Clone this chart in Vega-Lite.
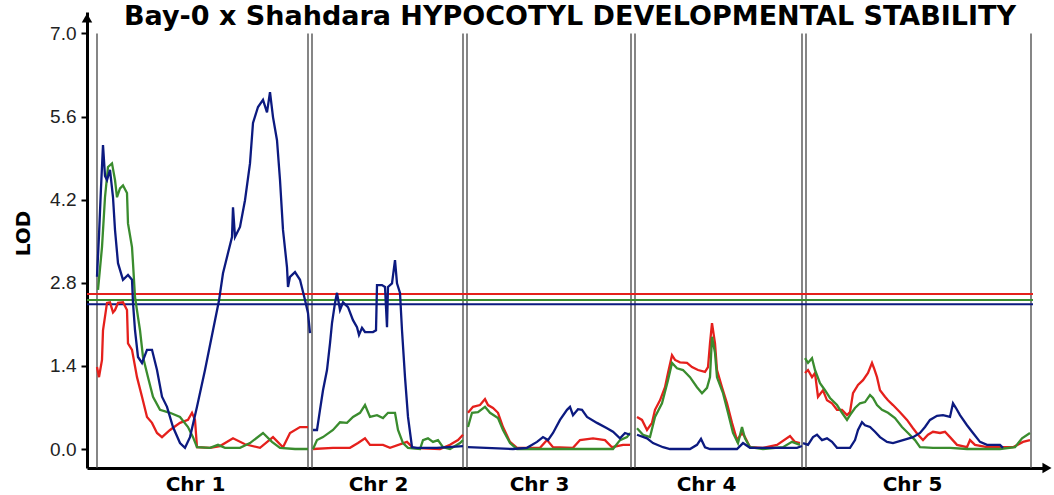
{
  "$schema": "https://vega.github.io/schema/vega-lite/v6.json",
  "width": 958,
  "height": 456,
  "autosize": "none",
  "padding": {"left": 87, "top": 12, "right": 9, "bottom": 27},
  "background": "white",
  "title": {
    "text": "Bay-0 x Shahdara HYPOCOTYL DEVELOPMENTAL STABILITY",
    "font": "DejaVu Sans",
    "fontWeight": "bold",
    "fontSize": 27,
    "color": "black",
    "anchor": "middle",
    "baseline": "alphabetic",
    "offset": 0,
    "dy": 40,
    "dx": 4
  },
  "datasets": {
    "bounds": [{"pos": 0}, {"pos": 211}, {"pos": 215}, {"pos": 366}, {"pos": 370}, {"pos": 534}, {"pos": 538}, {"pos": 705}, {"pos": 709}, {"pos": 934}],
    "thr": [{"series": "red", "lod": 2.61}, {"series": "green", "lod": 2.51}, {"series": "blue", "lod": 2.44}],
    "lod": [
      {"chr": 1, "series": "red", "pos": 0, "lod": 1.38}, {"chr": 1, "series": "red", "pos": 2, "lod": 1.21}, {"chr": 1, "series": "red", "pos": 5, "lod": 1.5}, {"chr": 1, "series": "red", "pos": 6, "lod": 2.0}, {"chr": 1, "series": "red", "pos": 10, "lod": 2.46}, {"chr": 1, "series": "red", "pos": 13, "lod": 2.47}, {"chr": 1, "series": "red", "pos": 16, "lod": 2.3}, {"chr": 1, "series": "red", "pos": 18, "lod": 2.34}, {"chr": 1, "series": "red", "pos": 21, "lod": 2.46}, {"chr": 1, "series": "red", "pos": 26, "lod": 2.47}, {"chr": 1, "series": "red", "pos": 30, "lod": 2.34}, {"chr": 1, "series": "red", "pos": 31, "lod": 1.78}, {"chr": 1, "series": "red", "pos": 35, "lod": 1.67}, {"chr": 1, "series": "red", "pos": 40, "lod": 1.21}, {"chr": 1, "series": "red", "pos": 45, "lod": 0.88}, {"chr": 1, "series": "red", "pos": 50, "lod": 0.54}, {"chr": 1, "series": "red", "pos": 55, "lod": 0.44}, {"chr": 1, "series": "red", "pos": 60, "lod": 0.27}, {"chr": 1, "series": "red", "pos": 65, "lod": 0.2}, {"chr": 1, "series": "red", "pos": 73, "lod": 0.32}, {"chr": 1, "series": "red", "pos": 83, "lod": 0.44}, {"chr": 1, "series": "red", "pos": 91, "lod": 0.49}, {"chr": 1, "series": "red", "pos": 95, "lod": 0.61}, {"chr": 1, "series": "red", "pos": 98, "lod": 0.49}, {"chr": 1, "series": "red", "pos": 100, "lod": 0.03}, {"chr": 1, "series": "red", "pos": 113, "lod": 0.02}, {"chr": 1, "series": "red", "pos": 123, "lod": 0.05}, {"chr": 1, "series": "red", "pos": 136, "lod": 0.18}, {"chr": 1, "series": "red", "pos": 148, "lod": 0.08}, {"chr": 1, "series": "red", "pos": 163, "lod": 0.02}, {"chr": 1, "series": "red", "pos": 176, "lod": 0.2}, {"chr": 1, "series": "red", "pos": 186, "lod": 0.03}, {"chr": 1, "series": "red", "pos": 193, "lod": 0.27}, {"chr": 1, "series": "red", "pos": 203, "lod": 0.37}, {"chr": 1, "series": "red", "pos": 211, "lod": 0.37},

      {"chr": 1, "series": "green", "pos": 1, "lod": 2.68}, {"chr": 1, "series": "green", "pos": 5, "lod": 3.4}, {"chr": 1, "series": "green", "pos": 8, "lod": 4.24}, {"chr": 1, "series": "green", "pos": 11, "lod": 4.75}, {"chr": 1, "series": "green", "pos": 15, "lod": 4.81}, {"chr": 1, "series": "green", "pos": 18, "lod": 4.53}, {"chr": 1, "series": "green", "pos": 20, "lod": 4.24}, {"chr": 1, "series": "green", "pos": 23, "lod": 4.39}, {"chr": 1, "series": "green", "pos": 26, "lod": 4.44}, {"chr": 1, "series": "green", "pos": 30, "lod": 4.31}, {"chr": 1, "series": "green", "pos": 31, "lod": 3.8}, {"chr": 1, "series": "green", "pos": 35, "lod": 3.4}, {"chr": 1, "series": "green", "pos": 36, "lod": 3.13}, {"chr": 1, "series": "green", "pos": 38, "lod": 2.56}, {"chr": 1, "series": "green", "pos": 41, "lod": 2.22}, {"chr": 1, "series": "green", "pos": 43, "lod": 2.0}, {"chr": 1, "series": "green", "pos": 46, "lod": 1.55}, {"chr": 1, "series": "green", "pos": 51, "lod": 1.21}, {"chr": 1, "series": "green", "pos": 56, "lod": 0.88}, {"chr": 1, "series": "green", "pos": 63, "lod": 0.66}, {"chr": 1, "series": "green", "pos": 73, "lod": 0.61}, {"chr": 1, "series": "green", "pos": 83, "lod": 0.54}, {"chr": 1, "series": "green", "pos": 91, "lod": 0.37}, {"chr": 1, "series": "green", "pos": 96, "lod": 0.2}, {"chr": 1, "series": "green", "pos": 100, "lod": 0.03}, {"chr": 1, "series": "green", "pos": 113, "lod": 0.02}, {"chr": 1, "series": "green", "pos": 121, "lod": 0.07}, {"chr": 1, "series": "green", "pos": 128, "lod": 0.02}, {"chr": 1, "series": "green", "pos": 143, "lod": 0.02}, {"chr": 1, "series": "green", "pos": 153, "lod": 0.1}, {"chr": 1, "series": "green", "pos": 166, "lod": 0.27}, {"chr": 1, "series": "green", "pos": 175, "lod": 0.12}, {"chr": 1, "series": "green", "pos": 183, "lod": 0.02}, {"chr": 1, "series": "green", "pos": 198, "lod": 0.0}, {"chr": 1, "series": "green", "pos": 211, "lod": 0.0},

      {"chr": 1, "series": "blue", "pos": 0, "lod": 2.9}, {"chr": 1, "series": "blue", "pos": 2, "lod": 3.6}, {"chr": 1, "series": "blue", "pos": 4, "lod": 4.4}, {"chr": 1, "series": "blue", "pos": 6, "lod": 5.12}, {"chr": 1, "series": "blue", "pos": 8, "lod": 4.6}, {"chr": 1, "series": "blue", "pos": 10, "lod": 4.53}, {"chr": 1, "series": "blue", "pos": 13, "lod": 4.7}, {"chr": 1, "series": "blue", "pos": 16, "lod": 4.24}, {"chr": 1, "series": "blue", "pos": 18, "lod": 3.69}, {"chr": 1, "series": "blue", "pos": 21, "lod": 3.13}, {"chr": 1, "series": "blue", "pos": 26, "lod": 2.85}, {"chr": 1, "series": "blue", "pos": 31, "lod": 2.93}, {"chr": 1, "series": "blue", "pos": 35, "lod": 2.85}, {"chr": 1, "series": "blue", "pos": 36, "lod": 2.46}, {"chr": 1, "series": "blue", "pos": 38, "lod": 2.0}, {"chr": 1, "series": "blue", "pos": 41, "lod": 1.55}, {"chr": 1, "series": "blue", "pos": 45, "lod": 1.45}, {"chr": 1, "series": "blue", "pos": 50, "lod": 1.67}, {"chr": 1, "series": "blue", "pos": 55, "lod": 1.67}, {"chr": 1, "series": "blue", "pos": 60, "lod": 1.33}, {"chr": 1, "series": "blue", "pos": 65, "lod": 0.88}, {"chr": 1, "series": "blue", "pos": 70, "lod": 0.71}, {"chr": 1, "series": "blue", "pos": 76, "lod": 0.37}, {"chr": 1, "series": "blue", "pos": 83, "lod": 0.1}, {"chr": 1, "series": "blue", "pos": 88, "lod": 0.02}, {"chr": 1, "series": "blue", "pos": 93, "lod": 0.2}, {"chr": 1, "series": "blue", "pos": 100, "lod": 0.71}, {"chr": 1, "series": "blue", "pos": 108, "lod": 1.33}, {"chr": 1, "series": "blue", "pos": 116, "lod": 2.0}, {"chr": 1, "series": "blue", "pos": 122, "lod": 2.5}, {"chr": 1, "series": "blue", "pos": 126, "lod": 2.96}, {"chr": 1, "series": "blue", "pos": 131, "lod": 3.3}, {"chr": 1, "series": "blue", "pos": 135, "lod": 3.57}, {"chr": 1, "series": "blue", "pos": 136, "lod": 4.07}, {"chr": 1, "series": "blue", "pos": 138, "lod": 3.57}, {"chr": 1, "series": "blue", "pos": 143, "lod": 3.74}, {"chr": 1, "series": "blue", "pos": 148, "lod": 4.19}, {"chr": 1, "series": "blue", "pos": 153, "lod": 4.81}, {"chr": 1, "series": "blue", "pos": 156, "lod": 5.49}, {"chr": 1, "series": "blue", "pos": 161, "lod": 5.76}, {"chr": 1, "series": "blue", "pos": 166, "lod": 5.88}, {"chr": 1, "series": "blue", "pos": 170, "lod": 5.67}, {"chr": 1, "series": "blue", "pos": 173, "lod": 6.01}, {"chr": 1, "series": "blue", "pos": 176, "lod": 5.59}, {"chr": 1, "series": "blue", "pos": 180, "lod": 5.2}, {"chr": 1, "series": "blue", "pos": 183, "lod": 4.53}, {"chr": 1, "series": "blue", "pos": 186, "lod": 3.69}, {"chr": 1, "series": "blue", "pos": 190, "lod": 3.06}, {"chr": 1, "series": "blue", "pos": 191, "lod": 2.73}, {"chr": 1, "series": "blue", "pos": 193, "lod": 2.9}, {"chr": 1, "series": "blue", "pos": 198, "lod": 2.98}, {"chr": 1, "series": "blue", "pos": 203, "lod": 2.85}, {"chr": 1, "series": "blue", "pos": 208, "lod": 2.51}, {"chr": 1, "series": "blue", "pos": 211, "lod": 2.29}, {"chr": 1, "series": "blue", "pos": 213, "lod": 1.95},

      {"chr": 2, "series": "red", "pos": 216, "lod": 0.0}, {"chr": 2, "series": "red", "pos": 236, "lod": 0.02}, {"chr": 2, "series": "red", "pos": 253, "lod": 0.02}, {"chr": 2, "series": "red", "pos": 261, "lod": 0.1}, {"chr": 2, "series": "red", "pos": 268, "lod": 0.18}, {"chr": 2, "series": "red", "pos": 273, "lod": 0.07}, {"chr": 2, "series": "red", "pos": 286, "lod": 0.07}, {"chr": 2, "series": "red", "pos": 293, "lod": 0.02}, {"chr": 2, "series": "red", "pos": 310, "lod": 0.12}, {"chr": 2, "series": "red", "pos": 316, "lod": 0.02}, {"chr": 2, "series": "red", "pos": 343, "lod": 0.0}, {"chr": 2, "series": "red", "pos": 353, "lod": 0.07}, {"chr": 2, "series": "red", "pos": 361, "lod": 0.15}, {"chr": 2, "series": "red", "pos": 366, "lod": 0.24},

      {"chr": 2, "series": "green", "pos": 216, "lod": 0.0}, {"chr": 2, "series": "green", "pos": 220, "lod": 0.15}, {"chr": 2, "series": "green", "pos": 226, "lod": 0.2}, {"chr": 2, "series": "green", "pos": 236, "lod": 0.32}, {"chr": 2, "series": "green", "pos": 243, "lod": 0.45}, {"chr": 2, "series": "green", "pos": 250, "lod": 0.44}, {"chr": 2, "series": "green", "pos": 256, "lod": 0.54}, {"chr": 2, "series": "green", "pos": 263, "lod": 0.61}, {"chr": 2, "series": "green", "pos": 268, "lod": 0.74}, {"chr": 2, "series": "green", "pos": 273, "lod": 0.54}, {"chr": 2, "series": "green", "pos": 280, "lod": 0.57}, {"chr": 2, "series": "green", "pos": 286, "lod": 0.52}, {"chr": 2, "series": "green", "pos": 291, "lod": 0.61}, {"chr": 2, "series": "green", "pos": 298, "lod": 0.61}, {"chr": 2, "series": "green", "pos": 301, "lod": 0.32}, {"chr": 2, "series": "green", "pos": 306, "lod": 0.1}, {"chr": 2, "series": "green", "pos": 311, "lod": 0.02}, {"chr": 2, "series": "green", "pos": 323, "lod": 0.0}, {"chr": 2, "series": "green", "pos": 326, "lod": 0.15}, {"chr": 2, "series": "green", "pos": 331, "lod": 0.18}, {"chr": 2, "series": "green", "pos": 336, "lod": 0.12}, {"chr": 2, "series": "green", "pos": 341, "lod": 0.15}, {"chr": 2, "series": "green", "pos": 346, "lod": 0.03}, {"chr": 2, "series": "green", "pos": 353, "lod": 0.0}, {"chr": 2, "series": "green", "pos": 363, "lod": 0.1}, {"chr": 2, "series": "green", "pos": 366, "lod": 0.15},

      {"chr": 2, "series": "blue", "pos": 216, "lod": 0.32}, {"chr": 2, "series": "blue", "pos": 220, "lod": 0.32}, {"chr": 2, "series": "blue", "pos": 223, "lod": 0.66}, {"chr": 2, "series": "blue", "pos": 226, "lod": 0.99}, {"chr": 2, "series": "blue", "pos": 230, "lod": 1.33}, {"chr": 2, "series": "blue", "pos": 233, "lod": 1.78}, {"chr": 2, "series": "blue", "pos": 235, "lod": 2.12}, {"chr": 2, "series": "blue", "pos": 238, "lod": 2.46}, {"chr": 2, "series": "blue", "pos": 240, "lod": 2.63}, {"chr": 2, "series": "blue", "pos": 243, "lod": 2.34}, {"chr": 2, "series": "blue", "pos": 246, "lod": 2.47}, {"chr": 2, "series": "blue", "pos": 251, "lod": 2.39}, {"chr": 2, "series": "blue", "pos": 256, "lod": 2.17}, {"chr": 2, "series": "blue", "pos": 260, "lod": 2.05}, {"chr": 2, "series": "blue", "pos": 262, "lod": 1.92}, {"chr": 2, "series": "blue", "pos": 265, "lod": 2.04}, {"chr": 2, "series": "blue", "pos": 268, "lod": 1.97}, {"chr": 2, "series": "blue", "pos": 276, "lod": 1.97}, {"chr": 2, "series": "blue", "pos": 279, "lod": 2.0}, {"chr": 2, "series": "blue", "pos": 280, "lod": 2.76}, {"chr": 2, "series": "blue", "pos": 285, "lod": 2.76}, {"chr": 2, "series": "blue", "pos": 288, "lod": 2.73}, {"chr": 2, "series": "blue", "pos": 290, "lod": 2.05}, {"chr": 2, "series": "blue", "pos": 291, "lod": 2.73}, {"chr": 2, "series": "blue", "pos": 295, "lod": 2.79}, {"chr": 2, "series": "blue", "pos": 298, "lod": 3.18}, {"chr": 2, "series": "blue", "pos": 300, "lod": 2.79}, {"chr": 2, "series": "blue", "pos": 303, "lod": 2.63}, {"chr": 2, "series": "blue", "pos": 305, "lod": 2.0}, {"chr": 2, "series": "blue", "pos": 308, "lod": 1.21}, {"chr": 2, "series": "blue", "pos": 311, "lod": 0.54}, {"chr": 2, "series": "blue", "pos": 315, "lod": 0.03}, {"chr": 2, "series": "blue", "pos": 320, "lod": 0.02}, {"chr": 2, "series": "blue", "pos": 340, "lod": 0.02}, {"chr": 2, "series": "blue", "pos": 366, "lod": 0.05},

      {"chr": 3, "series": "red", "pos": 371, "lod": 0.61}, {"chr": 3, "series": "red", "pos": 376, "lod": 0.71}, {"chr": 3, "series": "red", "pos": 383, "lod": 0.74}, {"chr": 3, "series": "red", "pos": 388, "lod": 0.84}, {"chr": 3, "series": "red", "pos": 391, "lod": 0.74}, {"chr": 3, "series": "red", "pos": 396, "lod": 0.69}, {"chr": 3, "series": "red", "pos": 401, "lod": 0.61}, {"chr": 3, "series": "red", "pos": 406, "lod": 0.37}, {"chr": 3, "series": "red", "pos": 413, "lod": 0.12}, {"chr": 3, "series": "red", "pos": 420, "lod": 0.02}, {"chr": 3, "series": "red", "pos": 443, "lod": 0.02}, {"chr": 3, "series": "red", "pos": 450, "lod": 0.15}, {"chr": 3, "series": "red", "pos": 456, "lod": 0.03}, {"chr": 3, "series": "red", "pos": 476, "lod": 0.02}, {"chr": 3, "series": "red", "pos": 483, "lod": 0.15}, {"chr": 3, "series": "red", "pos": 496, "lod": 0.18}, {"chr": 3, "series": "red", "pos": 508, "lod": 0.15}, {"chr": 3, "series": "red", "pos": 515, "lod": 0.03}, {"chr": 3, "series": "red", "pos": 526, "lod": 0.07}, {"chr": 3, "series": "red", "pos": 533, "lod": 0.07},

      {"chr": 3, "series": "green", "pos": 371, "lod": 0.37}, {"chr": 3, "series": "green", "pos": 375, "lod": 0.61}, {"chr": 3, "series": "green", "pos": 381, "lod": 0.62}, {"chr": 3, "series": "green", "pos": 388, "lod": 0.71}, {"chr": 3, "series": "green", "pos": 393, "lod": 0.61}, {"chr": 3, "series": "green", "pos": 401, "lod": 0.52}, {"chr": 3, "series": "green", "pos": 406, "lod": 0.32}, {"chr": 3, "series": "green", "pos": 413, "lod": 0.1}, {"chr": 3, "series": "green", "pos": 420, "lod": 0.0}, {"chr": 3, "series": "green", "pos": 516, "lod": 0.0}, {"chr": 3, "series": "green", "pos": 523, "lod": 0.15}, {"chr": 3, "series": "green", "pos": 530, "lod": 0.2}, {"chr": 3, "series": "green", "pos": 533, "lod": 0.27},

      {"chr": 3, "series": "blue", "pos": 371, "lod": 0.03}, {"chr": 3, "series": "blue", "pos": 416, "lod": 0.0}, {"chr": 3, "series": "blue", "pos": 430, "lod": 0.02}, {"chr": 3, "series": "blue", "pos": 440, "lod": 0.12}, {"chr": 3, "series": "blue", "pos": 446, "lod": 0.2}, {"chr": 3, "series": "blue", "pos": 451, "lod": 0.15}, {"chr": 3, "series": "blue", "pos": 456, "lod": 0.27}, {"chr": 3, "series": "blue", "pos": 463, "lod": 0.49}, {"chr": 3, "series": "blue", "pos": 470, "lod": 0.66}, {"chr": 3, "series": "blue", "pos": 473, "lod": 0.71}, {"chr": 3, "series": "blue", "pos": 476, "lod": 0.57}, {"chr": 3, "series": "blue", "pos": 481, "lod": 0.67}, {"chr": 3, "series": "blue", "pos": 485, "lod": 0.66}, {"chr": 3, "series": "blue", "pos": 490, "lod": 0.54}, {"chr": 3, "series": "blue", "pos": 500, "lod": 0.44}, {"chr": 3, "series": "blue", "pos": 510, "lod": 0.35}, {"chr": 3, "series": "blue", "pos": 516, "lod": 0.29}, {"chr": 3, "series": "blue", "pos": 523, "lod": 0.18}, {"chr": 3, "series": "blue", "pos": 528, "lod": 0.27}, {"chr": 3, "series": "blue", "pos": 533, "lod": 0.24},

      {"chr": 4, "series": "red", "pos": 540, "lod": 0.54}, {"chr": 4, "series": "red", "pos": 545, "lod": 0.49}, {"chr": 4, "series": "red", "pos": 550, "lod": 0.32}, {"chr": 4, "series": "red", "pos": 555, "lod": 0.44}, {"chr": 4, "series": "red", "pos": 558, "lod": 0.66}, {"chr": 4, "series": "red", "pos": 563, "lod": 0.82}, {"chr": 4, "series": "red", "pos": 568, "lod": 1.04}, {"chr": 4, "series": "red", "pos": 571, "lod": 1.28}, {"chr": 4, "series": "red", "pos": 575, "lod": 1.58}, {"chr": 4, "series": "red", "pos": 578, "lod": 1.5}, {"chr": 4, "series": "red", "pos": 583, "lod": 1.46}, {"chr": 4, "series": "red", "pos": 590, "lod": 1.45}, {"chr": 4, "series": "red", "pos": 595, "lod": 1.38}, {"chr": 4, "series": "red", "pos": 601, "lod": 1.33}, {"chr": 4, "series": "red", "pos": 608, "lod": 1.3}, {"chr": 4, "series": "red", "pos": 611, "lod": 1.38}, {"chr": 4, "series": "red", "pos": 613, "lod": 1.78}, {"chr": 4, "series": "red", "pos": 615, "lod": 2.12}, {"chr": 4, "series": "red", "pos": 618, "lod": 1.78}, {"chr": 4, "series": "red", "pos": 620, "lod": 1.33}, {"chr": 4, "series": "red", "pos": 625, "lod": 1.04}, {"chr": 4, "series": "red", "pos": 630, "lod": 0.77}, {"chr": 4, "series": "red", "pos": 635, "lod": 0.44}, {"chr": 4, "series": "red", "pos": 640, "lod": 0.15}, {"chr": 4, "series": "red", "pos": 645, "lod": 0.27}, {"chr": 4, "series": "red", "pos": 648, "lod": 0.2}, {"chr": 4, "series": "red", "pos": 653, "lod": 0.03}, {"chr": 4, "series": "red", "pos": 666, "lod": 0.02}, {"chr": 4, "series": "red", "pos": 680, "lod": 0.07}, {"chr": 4, "series": "red", "pos": 693, "lod": 0.22}, {"chr": 4, "series": "red", "pos": 698, "lod": 0.12}, {"chr": 4, "series": "red", "pos": 703, "lod": 0.1},

      {"chr": 4, "series": "green", "pos": 540, "lod": 0.35}, {"chr": 4, "series": "green", "pos": 546, "lod": 0.24}, {"chr": 4, "series": "green", "pos": 553, "lod": 0.2}, {"chr": 4, "series": "green", "pos": 558, "lod": 0.54}, {"chr": 4, "series": "green", "pos": 565, "lod": 0.77}, {"chr": 4, "series": "green", "pos": 571, "lod": 1.16}, {"chr": 4, "series": "green", "pos": 575, "lod": 1.45}, {"chr": 4, "series": "green", "pos": 580, "lod": 1.36}, {"chr": 4, "series": "green", "pos": 586, "lod": 1.33}, {"chr": 4, "series": "green", "pos": 593, "lod": 1.21}, {"chr": 4, "series": "green", "pos": 600, "lod": 1.04}, {"chr": 4, "series": "green", "pos": 605, "lod": 0.94}, {"chr": 4, "series": "green", "pos": 610, "lod": 1.03}, {"chr": 4, "series": "green", "pos": 613, "lod": 1.21}, {"chr": 4, "series": "green", "pos": 615, "lod": 1.89}, {"chr": 4, "series": "green", "pos": 618, "lod": 1.62}, {"chr": 4, "series": "green", "pos": 620, "lod": 1.21}, {"chr": 4, "series": "green", "pos": 626, "lod": 0.94}, {"chr": 4, "series": "green", "pos": 631, "lod": 0.61}, {"chr": 4, "series": "green", "pos": 636, "lod": 0.27}, {"chr": 4, "series": "green", "pos": 641, "lod": 0.1}, {"chr": 4, "series": "green", "pos": 645, "lod": 0.37}, {"chr": 4, "series": "green", "pos": 648, "lod": 0.18}, {"chr": 4, "series": "green", "pos": 653, "lod": 0.03}, {"chr": 4, "series": "green", "pos": 666, "lod": 0.0}, {"chr": 4, "series": "green", "pos": 686, "lod": 0.03}, {"chr": 4, "series": "green", "pos": 695, "lod": 0.12}, {"chr": 4, "series": "green", "pos": 703, "lod": 0.07},

      {"chr": 4, "series": "blue", "pos": 540, "lod": 0.24}, {"chr": 4, "series": "blue", "pos": 550, "lod": 0.18}, {"chr": 4, "series": "blue", "pos": 556, "lod": 0.1}, {"chr": 4, "series": "blue", "pos": 566, "lod": 0.03}, {"chr": 4, "series": "blue", "pos": 573, "lod": 0.0}, {"chr": 4, "series": "blue", "pos": 593, "lod": 0.0}, {"chr": 4, "series": "blue", "pos": 600, "lod": 0.07}, {"chr": 4, "series": "blue", "pos": 604, "lod": 0.17}, {"chr": 4, "series": "blue", "pos": 608, "lod": 0.03}, {"chr": 4, "series": "blue", "pos": 613, "lod": 0.0}, {"chr": 4, "series": "blue", "pos": 640, "lod": 0.0}, {"chr": 4, "series": "blue", "pos": 646, "lod": 0.1}, {"chr": 4, "series": "blue", "pos": 653, "lod": 0.02}, {"chr": 4, "series": "blue", "pos": 700, "lod": 0.02}, {"chr": 4, "series": "blue", "pos": 705, "lod": 0.05},

      {"chr": 5, "series": "red", "pos": 708, "lod": 1.28}, {"chr": 5, "series": "red", "pos": 711, "lod": 1.33}, {"chr": 5, "series": "red", "pos": 715, "lod": 1.21}, {"chr": 5, "series": "red", "pos": 718, "lod": 1.28}, {"chr": 5, "series": "red", "pos": 721, "lod": 0.88}, {"chr": 5, "series": "red", "pos": 726, "lod": 0.99}, {"chr": 5, "series": "red", "pos": 730, "lod": 0.82}, {"chr": 5, "series": "red", "pos": 735, "lod": 0.77}, {"chr": 5, "series": "red", "pos": 740, "lod": 0.66}, {"chr": 5, "series": "red", "pos": 745, "lod": 0.66}, {"chr": 5, "series": "red", "pos": 750, "lod": 0.57}, {"chr": 5, "series": "red", "pos": 753, "lod": 0.62}, {"chr": 5, "series": "red", "pos": 756, "lod": 0.94}, {"chr": 5, "series": "red", "pos": 761, "lod": 1.08}, {"chr": 5, "series": "red", "pos": 766, "lod": 1.16}, {"chr": 5, "series": "red", "pos": 771, "lod": 1.28}, {"chr": 5, "series": "red", "pos": 775, "lod": 1.45}, {"chr": 5, "series": "red", "pos": 777, "lod": 1.36}, {"chr": 5, "series": "red", "pos": 780, "lod": 1.21}, {"chr": 5, "series": "red", "pos": 783, "lod": 0.99}, {"chr": 5, "series": "red", "pos": 788, "lod": 0.88}, {"chr": 5, "series": "red", "pos": 791, "lod": 0.82}, {"chr": 5, "series": "red", "pos": 796, "lod": 0.74}, {"chr": 5, "series": "red", "pos": 803, "lod": 0.62}, {"chr": 5, "series": "red", "pos": 810, "lod": 0.49}, {"chr": 5, "series": "red", "pos": 816, "lod": 0.35}, {"chr": 5, "series": "red", "pos": 821, "lod": 0.24}, {"chr": 5, "series": "red", "pos": 826, "lod": 0.15}, {"chr": 5, "series": "red", "pos": 831, "lod": 0.24}, {"chr": 5, "series": "red", "pos": 836, "lod": 0.29}, {"chr": 5, "series": "red", "pos": 843, "lod": 0.27}, {"chr": 5, "series": "red", "pos": 848, "lod": 0.29}, {"chr": 5, "series": "red", "pos": 853, "lod": 0.2}, {"chr": 5, "series": "red", "pos": 860, "lod": 0.07}, {"chr": 5, "series": "red", "pos": 870, "lod": 0.03}, {"chr": 5, "series": "red", "pos": 873, "lod": 0.15}, {"chr": 5, "series": "red", "pos": 878, "lod": 0.07}, {"chr": 5, "series": "red", "pos": 890, "lod": 0.03}, {"chr": 5, "series": "red", "pos": 916, "lod": 0.03}, {"chr": 5, "series": "red", "pos": 926, "lod": 0.12}, {"chr": 5, "series": "red", "pos": 933, "lod": 0.15},

      {"chr": 5, "series": "green", "pos": 708, "lod": 1.53}, {"chr": 5, "series": "green", "pos": 711, "lod": 1.45}, {"chr": 5, "series": "green", "pos": 715, "lod": 1.53}, {"chr": 5, "series": "green", "pos": 718, "lod": 1.33}, {"chr": 5, "series": "green", "pos": 723, "lod": 1.11}, {"chr": 5, "series": "green", "pos": 728, "lod": 0.99}, {"chr": 5, "series": "green", "pos": 733, "lod": 0.86}, {"chr": 5, "series": "green", "pos": 740, "lod": 0.74}, {"chr": 5, "series": "green", "pos": 745, "lod": 0.61}, {"chr": 5, "series": "green", "pos": 750, "lod": 0.49}, {"chr": 5, "series": "green", "pos": 753, "lod": 0.57}, {"chr": 5, "series": "green", "pos": 758, "lod": 0.69}, {"chr": 5, "series": "green", "pos": 763, "lod": 0.77}, {"chr": 5, "series": "green", "pos": 768, "lod": 0.79}, {"chr": 5, "series": "green", "pos": 773, "lod": 0.91}, {"chr": 5, "series": "green", "pos": 776, "lod": 0.86}, {"chr": 5, "series": "green", "pos": 780, "lod": 0.74}, {"chr": 5, "series": "green", "pos": 785, "lod": 0.66}, {"chr": 5, "series": "green", "pos": 791, "lod": 0.61}, {"chr": 5, "series": "green", "pos": 798, "lod": 0.52}, {"chr": 5, "series": "green", "pos": 805, "lod": 0.37}, {"chr": 5, "series": "green", "pos": 811, "lod": 0.27}, {"chr": 5, "series": "green", "pos": 818, "lod": 0.15}, {"chr": 5, "series": "green", "pos": 823, "lod": 0.03}, {"chr": 5, "series": "green", "pos": 836, "lod": 0.02}, {"chr": 5, "series": "green", "pos": 853, "lod": 0.02}, {"chr": 5, "series": "green", "pos": 870, "lod": 0.0}, {"chr": 5, "series": "green", "pos": 903, "lod": 0.0}, {"chr": 5, "series": "green", "pos": 918, "lod": 0.03}, {"chr": 5, "series": "green", "pos": 925, "lod": 0.18}, {"chr": 5, "series": "green", "pos": 933, "lod": 0.27},

      {"chr": 5, "series": "blue", "pos": 706, "lod": 0.1}, {"chr": 5, "series": "blue", "pos": 711, "lod": 0.07}, {"chr": 5, "series": "blue", "pos": 716, "lod": 0.2}, {"chr": 5, "series": "blue", "pos": 720, "lod": 0.24}, {"chr": 5, "series": "blue", "pos": 725, "lod": 0.15}, {"chr": 5, "series": "blue", "pos": 730, "lod": 0.18}, {"chr": 5, "series": "blue", "pos": 735, "lod": 0.12}, {"chr": 5, "series": "blue", "pos": 740, "lod": 0.02}, {"chr": 5, "series": "blue", "pos": 753, "lod": 0.02}, {"chr": 5, "series": "blue", "pos": 758, "lod": 0.15}, {"chr": 5, "series": "blue", "pos": 761, "lod": 0.32}, {"chr": 5, "series": "blue", "pos": 765, "lod": 0.45}, {"chr": 5, "series": "blue", "pos": 768, "lod": 0.4}, {"chr": 5, "series": "blue", "pos": 773, "lod": 0.37}, {"chr": 5, "series": "blue", "pos": 778, "lod": 0.29}, {"chr": 5, "series": "blue", "pos": 783, "lod": 0.2}, {"chr": 5, "series": "blue", "pos": 790, "lod": 0.12}, {"chr": 5, "series": "blue", "pos": 796, "lod": 0.1}, {"chr": 5, "series": "blue", "pos": 806, "lod": 0.15}, {"chr": 5, "series": "blue", "pos": 816, "lod": 0.2}, {"chr": 5, "series": "blue", "pos": 823, "lod": 0.27}, {"chr": 5, "series": "blue", "pos": 828, "lod": 0.37}, {"chr": 5, "series": "blue", "pos": 833, "lod": 0.49}, {"chr": 5, "series": "blue", "pos": 840, "lod": 0.56}, {"chr": 5, "series": "blue", "pos": 846, "lod": 0.57}, {"chr": 5, "series": "blue", "pos": 853, "lod": 0.54}, {"chr": 5, "series": "blue", "pos": 856, "lod": 0.77}, {"chr": 5, "series": "blue", "pos": 859, "lod": 0.69}, {"chr": 5, "series": "blue", "pos": 863, "lod": 0.57}, {"chr": 5, "series": "blue", "pos": 870, "lod": 0.4}, {"chr": 5, "series": "blue", "pos": 876, "lod": 0.27}, {"chr": 5, "series": "blue", "pos": 883, "lod": 0.12}, {"chr": 5, "series": "blue", "pos": 890, "lod": 0.07}, {"chr": 5, "series": "blue", "pos": 903, "lod": 0.07}, {"chr": 5, "series": "blue", "pos": 906, "lod": 0.02}
    ]
  },
  "layer": [
    {
      "data": {"name": "bounds"},
      "mark": {"type": "rule", "color": "#444444", "strokeWidth": 1.3},
      "encoding": {
        "x": {
          "field": "pos", "type": "quantitative",
          "scale": {"domain": [-10, 948], "nice": false, "zero": false},
          "axis": {
            "values": [98, 281, 442, 609, 815],
            "labelExpr": "datum.value == 98 ? 'Chr 1' : datum.value == 281 ? 'Chr 2' : datum.value == 442 ? 'Chr 3' : datum.value == 609 ? 'Chr 4' : 'Chr 5'",
            "title": null, "grid": false, "ticks": false,
            "domainColor": "black", "domainWidth": 3,
            "labelFont": "DejaVu Sans", "labelFontWeight": "bold", "labelFontSize": 20, "labelColor": "black",
            "labelPadding": 6
          }
        },
        "y": {
          "datum": 7.0, "type": "quantitative",
          "scale": {"domain": [-0.32, 7.36], "nice": false, "zero": false},
          "axis": {
            "values": [0, 1.4, 2.8, 4.2, 5.6, 7.0], "format": ".1f",
            "title": "LOD", "titleFont": "DejaVu Sans", "titleFontWeight": "bold", "titleFontSize": 20, "titleColor": "black",
            "titlePadding": 16, "titleY": 221,
            "grid": false, "tickSize": 6, "tickWidth": 2, "tickColor": "black",
            "domainColor": "black", "domainWidth": 3,
            "labelFont": "Liberation Sans", "labelFontSize": 19, "labelColor": "#222222", "labelPadding": 5
          }
        },
        "y2": {"datum": -0.32}
      }
    },
    {
      "data": {"name": "thr"},
      "mark": {"type": "rule", "strokeWidth": 2},
      "encoding": {
        "x": {"datum": -10, "type": "quantitative"},
        "x2": {"datum": 936},
        "y": {"field": "lod", "type": "quantitative"},
        "color": {"field": "series", "type": "nominal", "legend": null}
      }
    },
    {
      "data": {"name": "lod"},
      "mark": {"type": "line", "strokeWidth": 2.3, "strokeJoin": "miter"},
      "encoding": {
        "x": {"field": "pos", "type": "quantitative"},
        "y": {"field": "lod", "type": "quantitative"},
        "color": {"field": "series", "type": "nominal", "scale": {"domain": ["red", "green", "blue"], "range": ["#e5201c", "#3a8c2e", "#0c1a80"]}, "legend": null},
        "detail": {"field": "chr", "type": "nominal"}
      }
    },
    {
      "data": {"values": [{"axis": "y"}]},
      "mark": {"type": "point", "shape": "triangle-up", "filled": true, "color": "black", "size": 110, "opacity": 1},
      "encoding": {"x": {"datum": -10, "type": "quantitative"}, "y": {"datum": 7.26, "type": "quantitative"}}
    },
    {
      "data": {"values": [{"axis": "x"}]},
      "mark": {"type": "point", "shape": "triangle-right", "filled": true, "color": "black", "size": 110, "opacity": 1},
      "encoding": {"x": {"datum": 950, "type": "quantitative"}, "y": {"datum": -0.32, "type": "quantitative"}}
    }
  ],
  "config": {"view": {"stroke": null}}
}
